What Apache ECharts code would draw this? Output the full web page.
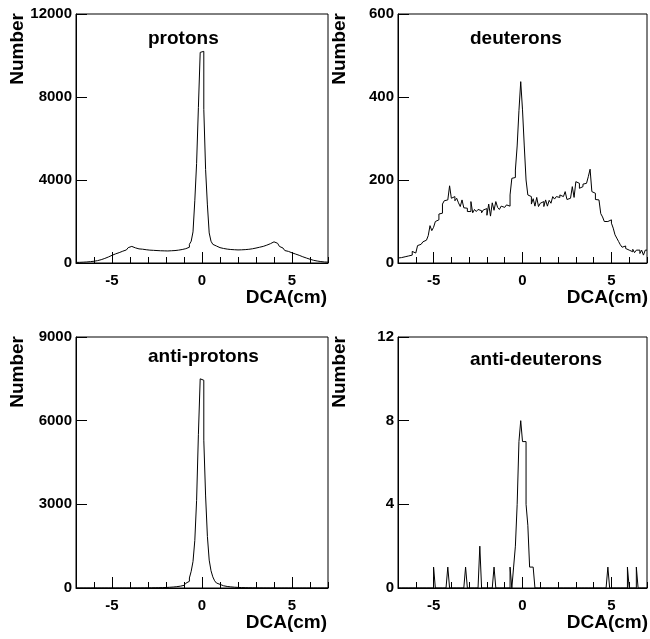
<!DOCTYPE html>
<html>
<head>
<meta charset="utf-8">
<script src="https://cdn.jsdelivr.net/npm/echarts@6/dist/echarts.min.js"></script>
<style>
  html, body { margin: 0; padding: 0; background: #fff; }
  #chart { width: 650px; height: 639px; }
</style>
</head>
<body>
<div id="chart"></div>
<script>
// histogram binning: 140 bins of 0.1 cm from -7 to 7
const binStart = -7
const binWidth = 0.1
const xTickLabels = [-5, 0, 5]

const protons = [
  30, 32, 35, 40, 45, 50, 58, 66, 75, 85,
  100, 115, 135, 160, 190, 220, 255, 290, 330, 370,
  410, 440, 470, 500, 530, 570, 600, 630, 680, 740,
  800, 770, 730, 700, 680, 670, 665, 650, 640, 630,
  620, 610, 610, 600, 600, 590, 590, 585, 585, 580,
  580, 590, 590, 600, 600, 610, 620, 630, 650, 670,
  690, 720, 760, 900, 1050, 1500, 3000, 4800, 7500, 10150,
  10200, 7400, 4500, 2800, 1450, 1050, 900, 820, 770, 740,
  720, 700, 680, 670, 660, 650, 645, 640, 635, 630,
  630, 635, 640, 645, 650, 660, 670, 685, 700, 720,
  740, 760, 780, 800, 830, 860, 890, 930, 970, 1020,
  1000, 950, 880, 800, 720, 650, 600, 560, 520, 490,
  460, 430, 400, 370, 340, 300, 270, 240, 210, 180,
  150, 130, 110, 95, 80, 70, 60, 50, 45, 40
]

const deuterons = [
  12, 13, 14, 15, 17, 17, 17, 19, 28, 24,
  24, 42, 45, 46, 51, 55, 59, 66, 90, 78,
  86, 100, 104, 118, 120, 142, 150, 152, 152, 186,
  156, 160, 150, 156, 145, 136, 152, 133, 132, 124,
  124, 148, 121, 129, 124, 129, 126, 121, 128, 131,
  115, 142, 113, 145, 127, 148, 134, 129, 137, 134,
  136, 140, 137, 164, 204, 206, 224, 282, 367, 437,
  369, 282, 200, 164, 160, 142, 155, 137, 158, 136,
  144, 148, 136, 152, 137, 151, 144, 160, 154, 160,
  158, 164, 160, 164, 172, 153, 156, 156, 184, 158,
  196, 192, 180, 184, 190, 192, 195, 208, 226, 172,
  168, 153, 152, 152, 119, 111, 100, 100, 102, 104,
  96, 84, 68, 60, 52, 44, 38, 41, 35, 31,
  35, 27, 33, 25, 31, 31, 23, 31, 19, 31
]

const antiProtons = [
  0, 0, 0, 0, 0, 0, 0, 0, 0, 0,
  0, 0, 0, 0, 0, 0, 0, 0, 0, 0,
  0, 0, 0, 0, 0, 0, 0, 0, 0, 0,
  1, 1, 1, 2, 2, 2, 3, 3, 4, 4,
  5, 6, 7, 8, 9, 10, 12, 14, 16, 18,
  22, 26, 30, 35, 40, 48, 56, 66, 78, 95,
  120, 170, 240, 360, 600, 950, 1700, 3140, 5510, 7500,
  7450, 5300, 3300, 1850, 1000, 620, 400, 260, 180, 130,
  100, 80, 66, 55, 46, 40, 34, 29, 25, 21,
  18, 15, 13, 11, 9, 8, 7, 6, 5, 4,
  4, 3, 3, 2, 2, 2, 1, 1, 1, 1,
  0, 0, 0, 0, 0, 0, 0, 0, 0, 0,
  0, 0, 0, 0, 0, 0, 0, 0, 0, 0,
  0, 0, 0, 0, 0, 0, 0, 0, 0, 0
]

const antiDeuterons = [
  0, 0, 0, 0, 0, 0, 0, 0, 0, 0,
  0, 0, 0, 0, 0, 0, 0, 0, 0, 0,
  1, 0, 0, 0, 0, 0, 0, 0, 1, 0,
  0, 0, 0, 0, 0, 0, 0, 0, 1, 0,
  0, 0, 0, 0, 0, 0, 2, 0, 0, 0,
  0, 0, 0, 0, 1, 0, 0, 0, 0, 0,
  0, 0, 0, 1, 0, 1, 2, 4, 7, 8,
  7, 7, 4, 3, 1, 1, 1, 0, 0, 0,
  0, 0, 0, 0, 0, 0, 0, 0, 0, 0,
  0, 0, 0, 0, 0, 0, 0, 0, 0, 0,
  0, 0, 0, 0, 0, 0, 0, 0, 0, 0,
  0, 0, 0, 0, 0, 0, 0, 0, 1, 0,
  0, 0, 0, 0, 0, 0, 0, 0, 0, 1,
  0, 0, 0, 0, 1, 0, 0, 0, 0, 0
]

const panelTitles = ['protons', 'deuterons', 'anti-protons', 'anti-deuterons']
const panelValues = [protons, deuterons, antiProtons, antiDeuterons]
const yMaxes = [12000, 600, 9000, 12]
const ySteps = [4000, 200, 3000, 4]

// layout
const boxes = [
  { left: 76, top: 14, width: 252, height: 249 },
  { left: 398, top: 14, width: 251, height: 249 },
  { left: 76, top: 337, width: 252, height: 251 },
  { left: 398, top: 337, width: 251, height: 251 }
]
const titleY = [39, 39, 357, 360]
const font = 'Liberation Sans'

const grids = [], xAxes = [], yAxes = [], series = [], graphics = []

boxes.forEach((b, i) => {
  grids.push({ left: b.left, top: b.top, width: b.width, height: b.height,
    show: true, borderColor: '#000', borderWidth: 1, backgroundColor: 'transparent' })

  // minor ticks every 1 cm + labels
  xAxes.push({
    type: 'value', gridIndex: i, min: -7, max: 7, interval: 1,
    axisLine: { onZero: false, lineStyle: { color: '#000', width: 1 } },
    axisTick: { inside: true, length: 6, lineStyle: { color: '#000' } },
    axisLabel: {
      margin: 10, color: '#000', fontFamily: font, fontWeight: 'bold', fontSize: 15,
      formatter: v => xTickLabels.includes(v) ? String(v) : ''
    },
    splitLine: { show: false }
  })
  // major ticks at -5, 0, 5
  xAxes.push({
    type: 'value', gridIndex: i, min: -7, max: 7, position: 'bottom', offset: 0,
    axisLine: { show: false, onZero: false },
    axisTick: { inside: true, length: 11, customValues: xTickLabels, lineStyle: { color: '#000' } },
    axisLabel: { show: false },
    splitLine: { show: false }
  })

  yAxes.push({
    type: 'value', gridIndex: i, min: 0, max: yMaxes[i], interval: ySteps[i],
    axisLine: { onZero: false, lineStyle: { color: '#000', width: 1 } },
    axisTick: { inside: true, length: 11, lineStyle: { color: '#000' } },
    axisLabel: {
      margin: 4, color: '#000', fontFamily: font, fontWeight: 'bold', fontSize: 15,
      formatter: v => String(v)
    },
    splitLine: { show: false }
  })

  const vals = panelValues[i]
  const data = vals.map((v, k) => [binStart + k * binWidth, v])
  data.push([binStart + vals.length * binWidth, vals[vals.length - 1]])
  series.push({
    type: 'line', xAxisIndex: 2 * i, yAxisIndex: i, step: 'end',
    symbol: 'none', data: data,
    lineStyle: { color: '#000', width: 1 }
  })

  const textStyle = { fontFamily: font, fontWeight: 'bold', fontSize: 19, fill: '#000' }
  graphics.push({
    type: 'text', x: b.left + 72, y: titleY[i],
    style: Object.assign({ text: panelTitles[i], align: 'left', verticalAlign: 'middle' }, textStyle)
  })
  graphics.push({
    type: 'text', x: b.left + b.width - 1, y: b.top + b.height + 35,
    style: Object.assign({ text: 'DCA(cm)', align: 'right', verticalAlign: 'middle' }, textStyle)
  })
  graphics.push({
    type: 'text', x: b.left - 58, y: b.top - 1, rotation: Math.PI / 2,
    style: Object.assign({ text: 'Number', align: 'right', verticalAlign: 'middle' }, textStyle)
  })
})

const chart = echarts.init(document.getElementById('chart'))
chart.setOption({
  animation: false,
  backgroundColor: '#fff',
  grid: grids,
  xAxis: xAxes,
  yAxis: yAxes,
  series: series,
  graphic: graphics
})
</script>
</body>
</html>
